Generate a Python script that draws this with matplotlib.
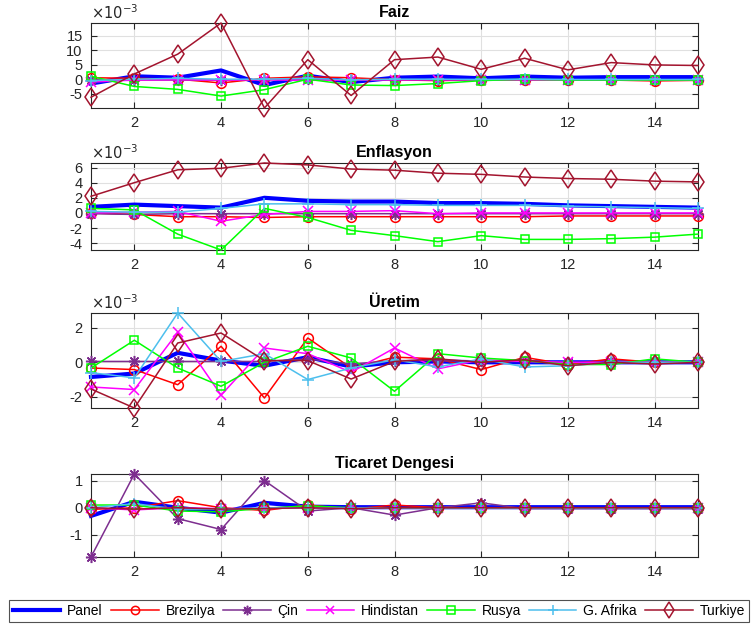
import matplotlib
matplotlib.use("Agg")
import matplotlib.pyplot as plt
import numpy as np
from matplotlib.ticker import FuncFormatter, FixedLocator

plt.rcParams['font.family'] = ['Liberation Sans', 'DejaVu Sans']

periods = list(range(1, 16))
series_names = ["Panel", "Brezilya", "Çin", "Hindistan", "Rusya", "G. Afrika", "Turkiye"]
panel_titles = ["Faiz", "Enflasyon", "Üretim", "Ticaret Dengesi"]
panel_scale = [1e-3, 1e-3, 1e-3, 1.0]

# Faiz (x 1e-3)
faiz_panel = [-1.5, 1.0, 0.5, 3.0, -2.0, 1.2, -1.0, 0.5, 0.9, 0.3, 0.9, 0.5, 0.7, 0.7, 0.7]
faiz_brezilya = [0.5, 0.3, 0.0, -1.3, 0.3, 0.8, 0.5, -0.2, -0.5, -0.2, -0.2, -0.2, -0.3, -0.6, -0.4]
faiz_cin = [-0.2, -0.3, -0.3, -0.3, -0.2, -0.1, -0.3, -0.2, -0.3, -0.2, -0.2, -0.2, -0.2, -0.2, -0.2]
faiz_hindistan = [-1.0, -0.3, -0.2, -0.3, -0.2, -0.4, -0.3, -0.2, -0.2, -0.2, -0.2, -0.2, -0.2, -0.2, -0.2]
faiz_rusya = [1.0, -2.5, -3.5, -5.8, -3.6, 0.0, -2.0, -2.2, -1.5, -0.5, 0.0, -0.3, -0.3, -0.3, -0.3]
faiz_gafrika = [-0.5, 0.0, 0.3, 0.0, 0.0, 0.3, -0.2, 0.0, 0.0, -0.1, 0.0, -0.1, -0.1, -0.1, -0.1]
faiz_turkiye = [-6.2, 1.8, 8.6, 19.3, -9.9, 6.7, -5.6, 6.7, 7.6, 3.4, 7.2, 3.2, 5.7, 4.9, 4.7]

# Enflasyon (x 1e-3)
enf_panel = [0.8, 1.1, 0.9, 0.7, 2.0, 1.6, 1.5, 1.5, 1.3, 1.3, 1.2, 1.0, 0.9, 0.8, 0.7]
enf_brezilya = [0.0, -0.2, -0.5, -0.5, -0.6, -0.5, -0.5, -0.5, -0.5, -0.5, -0.5, -0.4, -0.4, -0.4, -0.4]
enf_cin = [-0.1, -0.2, -0.1, -0.1, -0.1, -0.1, -0.1, -0.1, -0.1, -0.1, -0.1, -0.1, -0.1, -0.1, -0.1]
enf_hindistan = [0.0, 0.1, 0.2, -1.1, -0.2, 0.2, 0.2, 0.3, -0.1, 0.0, 0.0, 0.0, 0.0, 0.0, 0.0]
enf_rusya = [0.6, 0.4, -2.8, -4.9, 0.6, -0.6, -2.3, -3.0, -3.8, -3.0, -3.5, -3.5, -3.4, -3.2, -2.8]
enf_gafrika = [0.2, 0.1, 0.1, 0.6, 1.2, 1.2, 1.1, 1.1, 1.0, 1.0, 1.0, 0.9, 0.8, 0.7, 0.6]
enf_turkiye = [2.2, 4.0, 5.7, 5.9, 6.6, 6.35, 5.8, 5.65, 5.25, 5.1, 4.75, 4.55, 4.45, 4.2, 4.1]

# Uretim (x 1e-3)
ure_panel = [-0.85, -0.65, 0.55, 0.1, -0.2, 0.3, -0.25, 0.0, 0.05, 0.0, 0.0, 0.0, 0.0, 0.0, 0.0]
ure_brezilya = [-0.33, -0.42, -1.3, 0.93, -2.07, 1.41, -0.33, 0.3, 0.2, -0.42, 0.29, -0.13, 0.2, 0.0, 0.0]
ure_cin = [0.05, 0.05, 0.05, 0.05, 0.05, 0.2, -0.1, 0.1, 0.1, 0.05, 0.05, 0.0, 0.0, 0.0, 0.0]
ure_hindistan = [-1.43, -1.58, 1.74, -1.9, 0.83, 0.5, -0.58, 0.83, -0.38, 0.15, 0.05, 0.0, 0.0, 0.0, 0.0]
ure_rusya = [-0.33, 1.28, -0.33, -1.39, 0.0, 0.93, 0.25, -1.68, 0.5, 0.25, 0.1, -0.13, -0.13, 0.2, 0.0]
ure_gafrika = [-0.6, -0.9, 2.86, 0.05, 0.5, -1.0, -0.33, 0.15, -0.27, 0.2, -0.27, -0.2, 0.0, 0.0, 0.0]
ure_turkiye = [-1.55, -2.65, 1.12, 1.7, 0.1, 0.1, -0.97, 0.05, 0.2, 0.0, 0.15, -0.2, 0.0, -0.1, 0.0]

# Ticaret Dengesi
tic_panel = [-0.3, 0.22, 0.0, -0.18, 0.18, 0.04, 0.02, 0.02, 0.02, 0.02, 0.02, 0.02, 0.02, 0.02, 0.02]
tic_brezilya = [-0.06, 0.0, 0.26, 0.0, -0.1, 0.1, -0.05, 0.1, 0.0, 0.0, 0.0, 0.0, 0.0, 0.0, 0.0]
tic_cin = [-1.81, 1.24, -0.4, -0.8, 1.0, -0.12, 0.0, -0.27, 0.0, 0.18, -0.03, -0.03, -0.03, -0.03, -0.03]
tic_hindistan = [0.0, -0.08, 0.0, -0.03, -0.03, 0.0, 0.0, 0.0, 0.0, 0.0, 0.0, 0.0, 0.0, 0.0, 0.0]
tic_rusya = [0.1, 0.1, -0.12, -0.15, -0.02, 0.07, 0.0, 0.0, 0.0, 0.0, 0.0, 0.0, 0.0, 0.0, 0.0]
tic_gafrika = [0.0, 0.15, -0.05, -0.05, 0.0, 0.0, 0.0, 0.0, 0.0, 0.0, 0.0, 0.0, 0.0, 0.0, 0.0]
tic_turkiye = [0.0, -0.05, 0.0, -0.05, -0.03, 0.0, -0.03, 0.0, 0.0, 0.0, 0.0, 0.0, 0.0, 0.0, 0.0]

panels_data = [
    [faiz_panel, faiz_brezilya, faiz_cin, faiz_hindistan, faiz_rusya, faiz_gafrika, faiz_turkiye],
    [enf_panel, enf_brezilya, enf_cin, enf_hindistan, enf_rusya, enf_gafrika, enf_turkiye],
    [ure_panel, ure_brezilya, ure_cin, ure_hindistan, ure_rusya, ure_gafrika, ure_turkiye],
    [tic_panel, tic_brezilya, tic_cin, tic_hindistan, tic_rusya, tic_gafrika, tic_turkiye],
]
yticks = [[-5, 0, 5, 10, 15], [-4, -2, 0, 2, 4, 6], [-2, 0, 2], [-1, 0, 1]]
xticks = [2, 4, 6, 8, 10, 12, 14]

styles = [
    dict(color=(0, 0, 1), lw=3.0, marker=None),
    dict(color=(1, 0, 0), lw=1.1, marker='o', ms=7, mfc='none', mew=1.1),
    dict(color=(0.49, 0.18, 0.56), lw=1.1, marker=(8, 2, 0), ms=8, mew=1.1),
    dict(color=(1, 0, 1), lw=1.1, marker='x', ms=6.5, mew=1.1),
    dict(color=(0, 1, 0), lw=1.1, marker='s', ms=6, mfc='none', mew=1.1),
    dict(color=(0.30, 0.75, 0.93), lw=1.1, marker='+', ms=9, mew=1.1),
    dict(color=(0.64, 0.08, 0.18), lw=1.1, marker='d', ms=9.5, mfc='none', mew=1.1),
]

W, H = 751, 629
fig = plt.figure(figsize=(W / 100, H / 100), dpi=100)
# (top_px, bottom_px)
rows = [(23, 108), (163, 250), (313, 408), (474, 557)]
left_px, right_px = 91, 698
gray = (0.15, 0.15, 0.15)

handles = []
for k, (top, bot) in enumerate(rows):
    ax = fig.add_axes([left_px / W, 1 - bot / H, (right_px - left_px) / W, (bot - top) / H])
    sc = panel_scale[k]
    allv = []
    for j, vals in enumerate(panels_data[k]):
        y = np.array(vals) * sc
        allv.extend(y)
        st = styles[j]
        ln, = ax.plot(periods, y, color=st['color'], lw=st['lw'], marker=st['marker'],
                      ms=st.get('ms', 0), mfc=st.get('mfc', st['color']),
                      mew=st.get('mew', 1), mec=st['color'], clip_on=False, zorder=3 + j,
                      label=series_names[j])
        if k == 0:
            handles.append(ln)
    ax.set_xlim(1, 15)
    ax.set_ylim(min(allv), max(allv))
    ax.xaxis.set_major_locator(FixedLocator(xticks))
    ax.yaxis.set_major_locator(FixedLocator([t * sc for t in yticks[k]]))
    if sc != 1.0:
        ax.yaxis.set_major_formatter(FuncFormatter(lambda v, p, s=sc: f"{v / s:g}"))
        ax.text(0.0, 1.015, r'$\times 10^{-3}$', transform=ax.transAxes, fontsize=10.5,
                color=gray, ha='left', va='bottom')
    else:
        ax.yaxis.set_major_formatter(FuncFormatter(lambda v, p: f"{v:g}"))
    ax.grid(True, color=(0.88, 0.88, 0.88), lw=0.8)
    ax.set_axisbelow(True)
    ax.tick_params(direction='in', top=True, right=True, length=4, width=0.8,
                   labelsize=10.5, colors=gray, pad=6)
    for s in ax.spines.values():
        s.set_color(gray)
        s.set_linewidth(0.8)
    ax.set_title(panel_titles[k], fontsize=11.5, fontweight='bold', pad=4)

leg = fig.legend(handles=handles, labels=series_names, ncol=7, loc='center',
                 bbox_to_anchor=(379 / W, 1 - 611 / H), frameon=True, fancybox=False,
                 fontsize=10, handlelength=3.4, handletextpad=0.5, columnspacing=0.6,
                 borderpad=0.3, edgecolor=gray, markerscale=0.85)
leg.get_frame().set_linewidth(0.8)

fig.savefig("out.png", dpi=100)
